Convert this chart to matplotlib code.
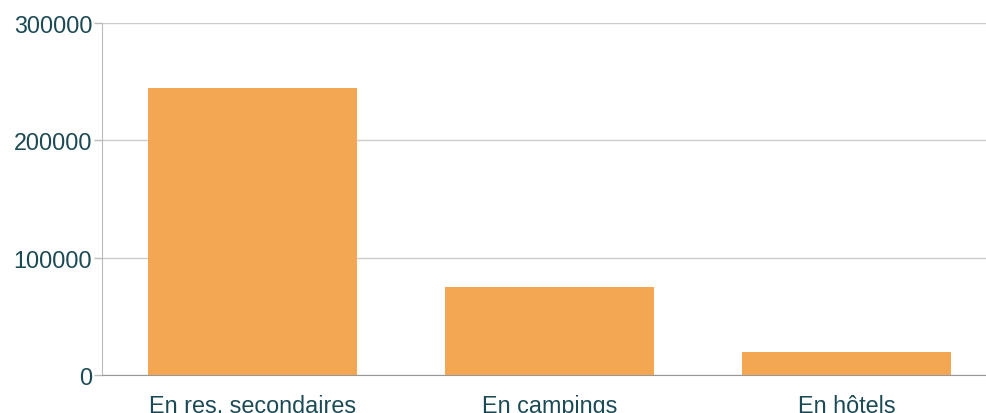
import matplotlib
matplotlib.use("Agg")
import matplotlib.pyplot as plt

# data
categories = ["En res. secondaires", "En campings", "En hôtels"]
values = [245000, 75000, 20000]
yticks = [0, 100000, 200000, 300000]

text_color = "#1b4a55"
bar_color = "#f4a752"

plt.rcParams["font.family"] = ["Liberation Sans", "DejaVu Sans"]

fig = plt.figure(figsize=(9.86, 4.14), dpi=100)
ax = fig.add_axes([102 / 986, (414 - 376) / 414, (986 - 102) / 986, (376 - 24) / 414])

x = range(len(categories))
ax.bar(x, values, width=0.704, color=bar_color, zorder=3)

ax.set_xlim(-0.5067, 2.4697)
ax.set_ylim(0, 300000)
ax.set_yticks(yticks)
ax.set_yticklabels([str(v) for v in yticks])
ax.set_xticks(list(x))
ax.set_xticklabels(categories)

ax.yaxis.grid(True, color="#cccccc", linewidth=1, zorder=0)
ax.tick_params(axis="y", length=6, color="#bbbbbb", width=1, labelsize=16.8,
               labelcolor=text_color, pad=1)
ax.tick_params(axis="x", length=0, labelsize=16.8, labelcolor=text_color, pad=14)

for s in ["top", "right"]:
    ax.spines[s].set_visible(False)
ax.spines["left"].set_color("#bbbbbb")
ax.spines["bottom"].set_color("#999999")
ax.spines["left"].set_zorder(4)
ax.spines["bottom"].set_zorder(4)

fig.savefig("out.png", dpi=100)
